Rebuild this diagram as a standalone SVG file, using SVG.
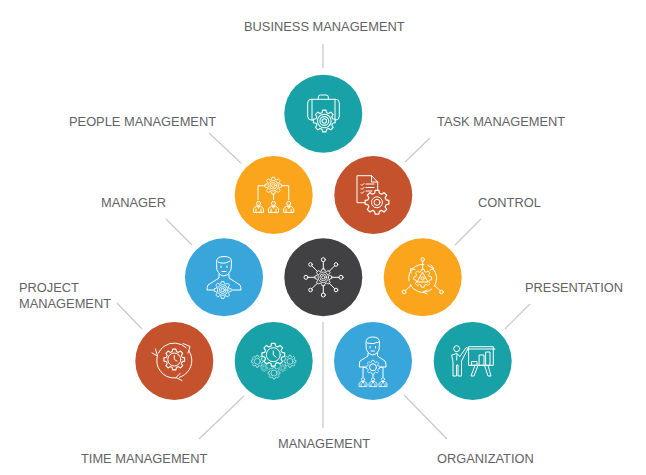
<svg xmlns="http://www.w3.org/2000/svg" width="646" height="475" viewBox="0 0 646 475">
<style>
text{font-family:"Liberation Sans",Arial,sans-serif;font-size:12.85px;fill:#626366}
.c{stroke:#c9c9c9;stroke-width:1.2;fill:none}
.i{fill:none;stroke:#fff;stroke-width:1;stroke-linejoin:round;stroke-linecap:round}
.i *{vector-effect:non-scaling-stroke}
.teal{fill:#18a2a8}.orange{fill:#fba51d}.red{fill:#c4522d}.blue{fill:#38a6da}.dark{fill:#414042}
</style>
<defs>
<path id="gear" d="M7.53-2.02L9.88-1.56V1.56L7.53 2.02L6.75 3.9L8.09 5.88L5.88 8.09L3.9 6.75L2.02 7.53L1.56 9.88H-1.56L-2.02 7.53L-3.9 6.75L-5.88 8.09L-8.09 5.88L-6.75 3.9L-7.53 2.02L-9.88 1.56V-1.56L-7.53-2.02L-6.75-3.9L-8.09-5.88L-5.88-8.09L-3.9-6.75L-2.02-7.53L-1.56-9.88H1.56L2.02-7.53L3.9-6.75L5.88-8.09L8.09-5.88L6.75-3.9Z"/>
<g id="gearhub"><use href="#gear"/><circle r="6.2"/><circle r="4"/><circle r="2"/></g>
<g id="gearsimple"><use href="#gear"/><circle r="5"/></g>
<g id="worker"><circle cy="-4.6" r="2"/><path d="M-5 4V0.5L-2.2-1.8H2.2L5 0.5V4ZM-2.5 4V1M2.5 4V1M-1.2-1.8L0 0.5L1.2-1.8"/></g>
</defs>
<g id="connectors">
<path class="c" d="M323 44V68M209 133L241 163M405 162L430 138M166 219L192 245M455 245L481 219M117 303L142 329M505 329L530 304M199 439L244 396M323 322V428M404 395L447 439"/>
</g>
<g id="business-management">
<circle class="teal" cx="323.3" cy="113.7" r="39"/>
<g class="i"><path d="M313 120H311Q307.700 120 307.700 116V103Q307.700 99.300 311 99.300H336Q339.300 99.300 339.300 103V116Q339.300 120 336 120H335M312 99.300V120M335 99.300V120M318.300 99.300V97Q318.300 95 320.500 95H326Q328.300 95 328.300 97V99.300"/>
<use href="#gearhub" transform="translate(324.300 121) scale(1.1)"/></g>
<text x="244" y="31">BUSINESS MANAGEMENT</text>
</g>
<g id="people-management">
<circle class="orange" cx="273.700" cy="195" r="39"/>
<g class="i"><use href="#gearhub" transform="translate(273.300 185.700) scale(.85)"/>
<path d="M265 185.700H258V199.500M282 185.700H288.700V199.500M273.500 194V199.500"/>
<use href="#worker" transform="translate(258.500 208)"/><use href="#worker" transform="translate(273.500 208)"/><use href="#worker" transform="translate(288.700 208)"/></g>
<text x="69" y="126">PEOPLE MANAGEMENT</text>
</g>
<g id="task-management">
<circle class="red" cx="373.300" cy="195" r="39"/>
<g class="i"><path d="M365 202.700H357V175.700H371.500L377.700 182V190M371.500 175.700V182H377.700M366 184H374M366 187.500H374M366 191H372M361 184.500L362 185.500L364 183.500M361 188.500L362 189.500L364 187.500M361 192.500L362 193.500L364 191.500"/>
<use href="#gear" transform="translate(377 202.300) scale(1.2)"/><circle cx="377" cy="202.300" r="5.500"/><circle cx="377" cy="202.300" r="3"/></g>
<text x="437" y="126">TASK MANAGEMENT</text>
</g>
<g id="manager">
<circle class="blue" cx="224" cy="277.300" r="39"/>
<g class="i"><path d="M216.500 262Q216 256.500 224 256.500Q232 256.500 231.500 262L231 270Q228 276 224 276Q220 276 217 270Z"/><path d="M218 262Q224 265 230 261M221 266V267.500M227 266V267.500M222 271.500H226"/><path d="M219 274V278L208 285Q207 287 207 290H214M229 274V278L240 285Q241 287 241 290H232"/>
<use href="#gearhub" transform="translate(222.700 290) scale(.85)"/></g>
<text x="101" y="207">MANAGER</text>
</g>
<g id="management">
<circle class="dark" cx="323.300" cy="277.300" r="39"/>
<g class="i"><use href="#gearhub" transform="translate(323.300 277.300) scale(.85)"/>
<path d="M323.300 269V262M323.300 285.500V293M331.500 277.300H339M315 277.300H308M329 271.500L334.500 266M317.500 271.500L312 266M329 283L334.500 288.500M317.500 283L312 288.500"/>
<circle cx="323.300" cy="259.700" r="2"/><circle cx="323.300" cy="295" r="2"/><circle cx="341" cy="277.300" r="2"/><circle cx="306" cy="277.300" r="2"/><circle cx="336" cy="264.500" r="1.800"/><circle cx="310.500" cy="264.500" r="1.800"/><circle cx="336" cy="290" r="1.800"/><circle cx="310.500" cy="290" r="1.800"/></g>
<text x="278" y="448">MANAGEMENT</text>
</g>
<g id="control">
<circle class="orange" cx="422.700" cy="277.300" r="39"/>
<g class="i"><use href="#gear" transform="translate(422.700 278.300) scale(.9)"/>
<circle cx="422.700" cy="278.300" r="14" pathLength="100" stroke-dasharray="29 4.333" transform="rotate(-70 422.700 278.300)"/>
<path d="M422.700 261V269M411 285.500L405.500 290.500M434.500 285.500L440 290.500M422.700 272.500L428 282H417.500Z"/>
<path d="M431 265L434 268.500L430 270M411 273L410.500 268.500L415 269.500M427 290L423 292L427 294"/>
<circle cx="422.700" cy="259.500" r="1.800"/><circle cx="404" cy="292" r="1.800"/><circle cx="441.500" cy="292" r="1.800"/><circle cx="422.700" cy="278.500" r="1.600"/></g>
<text x="478" y="207">CONTROL</text>
</g>
<g id="project-management">
<circle class="red" cx="174.300" cy="361" r="39"/>
<g class="i"><use href="#gear" transform="translate(174.300 359.500) scale(1.05)"/><circle cx="174.300" cy="359.500" r="6.500"/>
<circle cx="174.300" cy="360.500" r="17.500" pathLength="100" stroke-dasharray="30 3.333" transform="rotate(-35 174.300 360.500)"/>
<path d="M174.300 355.500V359.500L177 361M183 343.500L190 346.500L188 353M155.500 349L157.500 356L152 353M180 373.500L176 377.500L182 380.500"/></g>
<text x="19" y="292">PROJECT</text><text x="19" y="308">MANAGEMENT</text>
</g>
<g id="time-management">
<circle class="teal" cx="273.700" cy="361" r="39"/>
<g class="i"><use href="#gear" transform="translate(273.300 354.700) scale(1.150)"/><circle cx="273.300" cy="354.700" r="7"/><path d="M273.300 351V355L276 357"/>
<use href="#gearsimple" transform="translate(257.300 361.300) scale(.6)"/><use href="#gearsimple" transform="translate(290 361.300) scale(.6)"/><use href="#gearsimple" transform="translate(274 373) scale(.6)"/><use href="#gearsimple" transform="translate(264.300 368) scale(.35)"/><use href="#gearsimple" transform="translate(282.700 368) scale(.35)"/></g>
<text x="81" y="463">TIME MANAGEMENT</text>
</g>
<g id="organization">
<circle class="blue" cx="373" cy="361" r="39"/>
<g class="i"><path d="M366 343Q365.500 337 372.700 337Q380 337 379.500 343L379 350Q376.500 355 372.700 355Q369 355 366.500 350Z"/><path d="M367 343Q373 345 379 342M370 346.500V348M375.500 346.500V348M371 351H374.500"/><path d="M368 353V356L360 361Q359.300 362 359.300 367H365M377.500 353V356L385 361Q386 362 386 367H381"/>
<use href="#gear" transform="translate(373 367.300) scale(.7)"/><circle cx="373" cy="367.300" r="3.500"/>
<path d="M366 367.300H363V377M380 367.300H383V377M373 374.500V377"/>
<use href="#worker" transform="translate(363 383) scale(.8)"/><use href="#worker" transform="translate(373 383) scale(.8)"/><use href="#worker" transform="translate(383 383) scale(.8)"/></g>
<text x="437" y="463">ORGANIZATION</text>
</g>
<g id="presentation">
<circle class="teal" cx="472.700" cy="361" r="39"/>
<g class="i"><circle cx="456.700" cy="348.700" r="3"/>
<path d="M452 355L456.700 353.500L460 356.500L466.500 347L468 348.500L461.500 361V376H458V365H456.500V376H453V362ZM457 354L456.700 360"/>
<path d="M469 346.700H493.300V365.300H469ZM467 349H495M472 361.500H477V365.300H472ZM479.500 355H484V365.300H479.500ZM486 352H490V365.300H486ZM475 365.300L471 376H474L478 365.300M488 365.300L491 376H488L484.500 365.300"/></g>
<text x="525" y="292">PRESENTATION</text>
</g>
</svg>
